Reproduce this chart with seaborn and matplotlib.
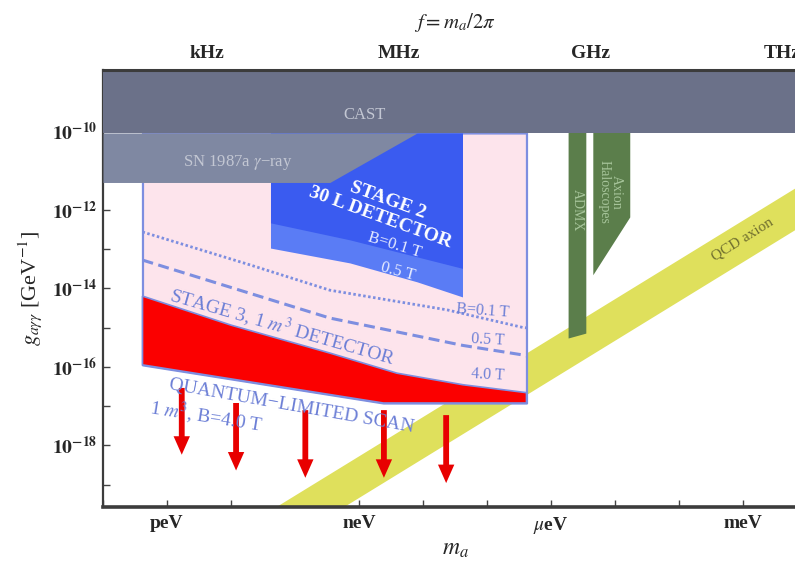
import numpy as np
import pandas as pd
import matplotlib
matplotlib.use("Agg")
import matplotlib.pyplot as plt
from matplotlib.ticker import FixedLocator, FuncFormatter, NullFormatter
import seaborn as sns

# Planck constant in eV*s: f = m_a / (2*pi*hbar) = m_a / h
H_EVS = 4.135667696e-15

# ---- existing limits -------------------------------------------------------
cast_g = 10 ** -10.05                      # CAST helioscope bound (flat)
sn_m = [1e-13, 3.5e-10, 8.1e-9]            # SN 1987a gamma-ray bound
sn_g = [4.9e-12, 4.9e-12, cast_g]

admx_m = [1.85e-6, 3.5e-6]
admx_g = [5.4e-16, 7.2e-16]
halo_m = [4.5e-6, 1.7e-5]
halo_g = [2.2e-14, 6.5e-13]

# QCD axion band, g proportional to m_a
qcd_m = [1e-13, 1e-2]
qcd_g_hi = [5.5e-23, 5.5e-12]
qcd_g_lo = [4.8e-24, 4.8e-13]

# ---- stage 2: 30 L detector (10 kHz - 10 MHz) -----------------------------
s2_m01 = [4.14e-11, 7.2e-10, 4.14e-8]
s2_g01 = [4.6e-13, 1.7e-13, 3.2e-14]
s2_m05 = [4.14e-11, 7.2e-10, 8.1e-9, 4.14e-8]
s2_g05 = [1.05e-13, 4.4e-14, 1.45e-14, 6.0e-15]

# ---- stage 3: 1 m^3 detector (100 Hz - 100 MHz) ---------------------------
s3_m01 = [4.14e-13, 2.0e-11, 3.5e-10, 2.4e-8, 3.65e-7, 4.14e-7]
s3_g01 = [2.7e-13, 3.9e-14, 8.9e-15, 2.8e-15, 1.0e-15, 9.8e-16]
s3_m05 = [4.14e-13, 3.5e-10, 4.2e-8, 3.65e-7, 4.14e-7]
s3_g05 = [5.2e-14, 1.74e-15, 3.5e-16, 2.0e-16, 1.9e-16]
s3_m40 = [4.14e-13, 1.0e-11, 3.5e-10, 3.9e-9, 4.2e-8, 4.14e-7]
s3_g40 = [6.3e-15, 1.15e-15, 2.24e-16, 6.9e-17, 3.5e-17, 2.2e-17]
ql_m = [4.14e-13, 2.4e-9, 4.14e-7]         # quantum-limited scan
ql_g = [1.12e-16, 1.2e-17, 1.2e-17]

# arrows below the quantum-limited scan
arrow_m = [1.7e-12, 1.2e-11, 1.45e-10, 2.45e-9, 2.3e-8]
arrow_top = [2.9e-17, 1.2e-17, 7.9e-18, 7.9e-18, 5.9e-18]
arrow_tip = [5.8e-19, 2.3e-19, 1.5e-19, 1.5e-19, 1.1e-19]

# axis ticks
mass_ticks = [1e-12, 1e-9, 1e-6, 1e-3]
mass_labels = ["peV", "neV", r"$\mu$eV", "meV"]
freq_ticks = [1e3, 1e6, 1e9, 1e12]
freq_labels = ["kHz", "MHz", "GHz", "THz"]

# ---- colours ---------------------------------------------------------------
c_cast = "#6b7189"
c_sn = "#7f88a2"
c_gray_txt = "#c3c7d3"
c_pink = "#fde4ec"
c_edge = "#7d8ee0"
c_txt3 = "#6c7fd6"
c_red = "#fb0000"
c_blue_d = "#3a5bf0"
c_blue_l = "#5a7cf5"
c_green = "#5b7e4b"
c_green_txt = "#a6c49a"
c_yellow = "#dfe05c"
c_qcd_txt = "#6e6d2e"
c_arrow = "#e80000"

sns.set_theme(style="ticks")
plt.rcParams["font.family"] = ["Liberation Serif", "DejaVu Serif"]
plt.rcParams["mathtext.fontset"] = "stix"

fig = plt.figure(figsize=(7.95, 5.69), dpi=100)
ax = fig.add_axes([103 / 795, 1 - 507 / 569, 704 / 795, 437 / 569])
ax.set_xscale("log")
ax.set_yscale("log")
ax.set_xlim(1e-13, 1e-2)
ax.set_ylim(10 ** -19.567, 10 ** -8.448)
top_g = 10 ** -8.448

# QCD band
ax.fill_between(qcd_m, qcd_g_lo, qcd_g_hi, color=c_yellow, lw=0, zorder=1)

# stage 3 sensitivity region
ax.fill_between(ql_m, ql_g, cast_g, facecolor=c_pink, edgecolor=c_edge,
                lw=1.6, zorder=2)
sns.lineplot(x=s3_m01, y=s3_g01, ax=ax, color=c_edge, lw=2.0,
             linestyle=(0, (0.9, 0.9)), estimator=None, sort=False, zorder=3)
sns.lineplot(x=s3_m05, y=s3_g05, ax=ax, color=c_edge, lw=2.2,
             linestyle=(0, (3.6, 1.8)), estimator=None, sort=False, zorder=3)
red_x = list(s3_m40) + list(ql_m[::-1])
red_y = list(s3_g40) + list(ql_g[::-1])
ax.fill(red_x, red_y, facecolor=c_red, edgecolor=c_edge, lw=1.2, zorder=3)

# stage 2 region
ax.fill_between(s2_m05, s2_g05, cast_g, color=c_blue_l, lw=0, zorder=3)
ax.fill_between(s2_m01, s2_g01, cast_g, color=c_blue_d, lw=0, zorder=3)

# haloscopes
ax.fill_between(admx_m, admx_g, cast_g * 2, color=c_green, lw=0, zorder=4)
ax.fill_between(halo_m, halo_g, cast_g * 2, color=c_green, lw=0, zorder=4)

# SN 1987a and CAST
ax.fill_between(sn_m, sn_g, cast_g, color=c_sn, lw=0, zorder=5)
ax.fill_between(qcd_m, cast_g, top_g, color=c_cast, lw=0, zorder=5)

# arrows
for m, g0, g1 in zip(arrow_m, arrow_top, arrow_tip):
    ax.annotate("", xy=(m, g1), xytext=(m, g0),
                arrowprops=dict(arrowstyle="simple,head_width=0.62,head_length=0.7,tail_width=0.22",
                                color=c_arrow, lw=0, shrinkA=0, shrinkB=0,
                                mutation_scale=19),
                zorder=6)

# ---- labels inside the plot ------------------------------------------------
def label(m, g, s, rot=0, **kw):
    ax.text(m, g, s, rotation=rot, rotation_mode="anchor", ha="center",
            va="center", zorder=8, **kw)

label(10 ** -8.906, 10 ** -9.59, "CAST", color=c_gray_txt, fontsize=12)
label(10 ** -10.89, 10 ** -10.81, "SN 1987a $\\gamma$\u2212ray", color=c_gray_txt, fontsize=12)
label(10 ** -8.55, 10 ** -11.76, "STAGE 2", rot=-20, color="white", fontsize=14, fontweight="bold")
label(10 ** -8.67, 10 ** -12.21, "30 L DETECTOR", rot=-20, color="white", fontsize=14, fontweight="bold")
label(10 ** -8.44, 10 ** -12.90, "B=0.1 T", rot=-17, color="#e6ebff", fontsize=12)
label(10 ** -8.39, 10 ** -13.59, "0.5 T", rot=-15, color="#e6ebff", fontsize=12)
label(10 ** -7.06, 10 ** -14.58, "B=0.1 T", rot=-4, color=c_txt3, fontsize=11.5)
label(10 ** -6.98, 10 ** -15.32, "0.5 T", rot=-3, color=c_txt3, fontsize=11.5)
label(10 ** -6.98, 10 ** -16.21, "4.0 T", rot=-3, color=c_txt3, fontsize=11.5)
label(10 ** -10.19, 10 ** -14.96, "STAGE 3, 1 $m^3$ DETECTOR", rot=-16, color=c_txt3, fontsize=14)
label(10 ** -10.05, 10 ** -17.0, "QUANTUM\u2212LIMITED SCAN", rot=-10, color=c_txt3, fontsize=14)
label(10 ** -11.39, 10 ** -17.23, "1 $m^3$, B=4.0 T", rot=-9, color=c_txt3, fontsize=14)
label(10 ** -5.59, 10 ** -12.01, "ADMX", rot=-90, color=c_green_txt, fontsize=10)
label(10 ** -5.08, 10 ** -11.55, "Axion\nHaloscopes", rot=-90, color=c_green_txt,
      fontsize=10, linespacing=0.95)
label(10 ** -3.0, 10 ** -12.77, "QCD axion", rot=32, color=c_qcd_txt, fontsize=11)

# ---- axes ------------------------------------------------------------------
ax.xaxis.set_major_locator(FixedLocator(mass_ticks))
ax.xaxis.set_major_formatter(FuncFormatter(lambda v, p: mass_labels[mass_ticks.index(v)]
                                           if v in mass_ticks else ""))
ax.xaxis.set_minor_locator(FixedLocator([10.0 ** k for k in range(-13, -1)]))
ax.xaxis.set_minor_formatter(NullFormatter())
ax.yaxis.set_major_locator(FixedLocator([10.0 ** k for k in range(-18, -9, 2)]))
ax.yaxis.set_major_formatter(FuncFormatter(
    lambda v, p: r"$\mathbf{10^{%d}}$" % round(np.log10(v))))
ax.yaxis.set_minor_locator(FixedLocator([10.0 ** k for k in range(-19, -8, 2)]))
ax.yaxis.set_minor_formatter(NullFormatter())
ax.tick_params(axis="both", which="both", direction="in", length=5, width=1,
               color="#444444", labelsize=14, pad=6)
ax.tick_params(axis="y", pad=4)
for t in ax.get_xticklabels():
    t.set_fontweight("bold")

for side in ["left", "bottom", "top"]:
    ax.spines[side].set_color("#3c3c3c")
ax.spines["left"].set_linewidth(1.6)
ax.spines["bottom"].set_linewidth(2.6)
ax.spines["top"].set_linewidth(2.2)
ax.spines["top"].set_zorder(9)

ax.set_xlabel("$m_a$", fontsize=17, labelpad=2)
ax.set_ylabel(r"$g_{a\gamma\gamma}$ [GeV$^{-1}$]", fontsize=16, labelpad=6)

sec = ax.secondary_xaxis("top", functions=(lambda m: m / H_EVS, lambda f: f * H_EVS))
sec.xaxis.set_major_locator(FixedLocator(freq_ticks))
sec.xaxis.set_major_formatter(FuncFormatter(
    lambda v, p: freq_labels[int(np.argmin([abs(np.log10(v) - np.log10(t)) for t in freq_ticks]))]))
sec.xaxis.set_minor_locator(FixedLocator([10.0 ** k for k in range(0, 14)]))
sec.xaxis.set_minor_formatter(NullFormatter())
sec.tick_params(axis="x", which="both", direction="in", length=5, width=1,
                color="#444444", labelsize=14, pad=6)
for t in sec.get_xticklabels():
    t.set_fontweight("bold")
sec.spines["top"].set_visible(False)
sec.set_xlabel(r"$f = m_a/2\pi$", fontsize=15, labelpad=12)

fig.savefig("out.png", dpi=100, facecolor="white")
